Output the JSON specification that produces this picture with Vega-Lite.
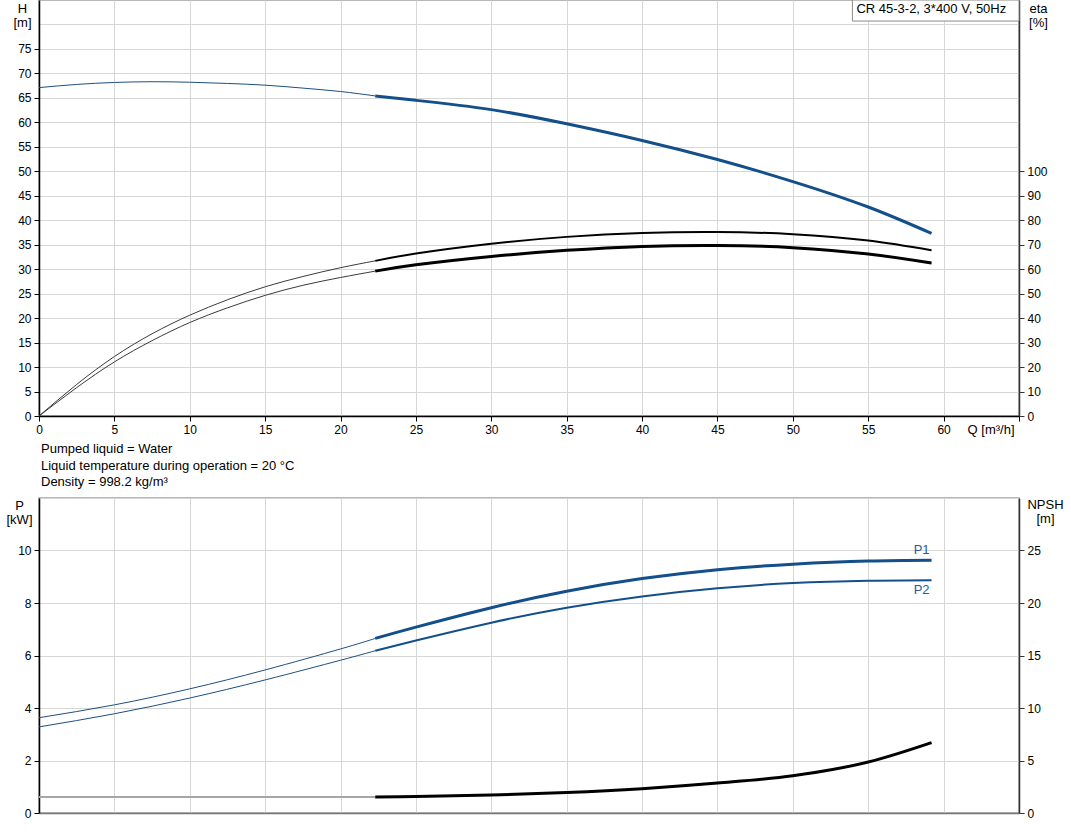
{
  "$schema": "https://vega.github.io/schema/vega-lite/v6.json",
  "background": "white",
  "padding": {"left": 5, "top": -2, "right": 2, "bottom": 0},
  "autosize": {"type": "pad"},
  "bounds": "flush",
  "spacing": 82,
  "config": {
    "font": "Liberation Sans",
    "view": {"stroke": "#a0a0a0", "strokeWidth": 1.5},
    "axis": {
      "labelFont": "Liberation Sans", "labelFontSize": 12, "labelColor": "#000",
      "titleFont": "Liberation Sans", "titleFontSize": 13, "titleFontWeight": "normal", "titleColor": "#000",
      "gridColor": "#d6d6d6", "gridWidth": 1, "tickColor": "#000", "domainColor": "#000", "domainWidth": 1.5,
      "tickSize": 5, "labelPadding": 3, "labelFlush": false, "labelOverlap": false
    },
    "line": {"interpolate": "natural"}
  },
  "datasets": {
    "curves": [
      {"curve": "H", "seg": "thin", "Q": 0, "value": 67.1},
      {"curve": "H", "seg": "thin", "Q": 2.5, "value": 67.75},
      {"curve": "H", "seg": "thin", "Q": 5, "value": 68.15},
      {"curve": "H", "seg": "thin", "Q": 7.5, "value": 68.3},
      {"curve": "H", "seg": "thin", "Q": 10, "value": 68.2},
      {"curve": "H", "seg": "thin", "Q": 12.5, "value": 67.95},
      {"curve": "H", "seg": "thin", "Q": 15, "value": 67.6},
      {"curve": "H", "seg": "thin", "Q": 17.5, "value": 67.0},
      {"curve": "H", "seg": "thin", "Q": 20, "value": 66.3},
      {"curve": "H", "seg": "thin", "Q": 22.3, "value": 65.4},
      {"curve": "H", "seg": "thick", "Q": 22.3, "value": 65.4},
      {"curve": "H", "seg": "thick", "Q": 25, "value": 64.5},
      {"curve": "H", "seg": "thick", "Q": 30, "value": 62.6},
      {"curve": "H", "seg": "thick", "Q": 35, "value": 59.7},
      {"curve": "H", "seg": "thick", "Q": 40, "value": 56.3},
      {"curve": "H", "seg": "thick", "Q": 45, "value": 52.4},
      {"curve": "H", "seg": "thick", "Q": 50, "value": 47.9},
      {"curve": "H", "seg": "thick", "Q": 55, "value": 42.7},
      {"curve": "H", "seg": "thick", "Q": 59.2, "value": 37.3},

      {"curve": "eta1", "seg": "thin", "Q": 0, "value": 0},
      {"curve": "eta1", "seg": "thin", "Q": 2.5, "value": 12.9},
      {"curve": "eta1", "seg": "thin", "Q": 5, "value": 24.3},
      {"curve": "eta1", "seg": "thin", "Q": 7.5, "value": 33.6},
      {"curve": "eta1", "seg": "thin", "Q": 10, "value": 41.2},
      {"curve": "eta1", "seg": "thin", "Q": 12.5, "value": 47.5},
      {"curve": "eta1", "seg": "thin", "Q": 15, "value": 52.8},
      {"curve": "eta1", "seg": "thin", "Q": 17.5, "value": 57.0},
      {"curve": "eta1", "seg": "thin", "Q": 20, "value": 60.6},
      {"curve": "eta1", "seg": "thin", "Q": 22.3, "value": 63.4},
      {"curve": "eta1", "seg": "thick", "Q": 22.3, "value": 63.4},
      {"curve": "eta1", "seg": "thick", "Q": 25, "value": 66.4},
      {"curve": "eta1", "seg": "thick", "Q": 30, "value": 70.4},
      {"curve": "eta1", "seg": "thick", "Q": 35, "value": 73.2},
      {"curve": "eta1", "seg": "thick", "Q": 40, "value": 74.8},
      {"curve": "eta1", "seg": "thick", "Q": 45, "value": 75.2},
      {"curve": "eta1", "seg": "thick", "Q": 50, "value": 74.3},
      {"curve": "eta1", "seg": "thick", "Q": 55, "value": 71.7},
      {"curve": "eta1", "seg": "thick", "Q": 59.2, "value": 67.7},

      {"curve": "eta2", "seg": "thin", "Q": 0, "value": 0},
      {"curve": "eta2", "seg": "thin", "Q": 2.5, "value": 11.6},
      {"curve": "eta2", "seg": "thin", "Q": 5, "value": 22.1},
      {"curve": "eta2", "seg": "thin", "Q": 7.5, "value": 30.8},
      {"curve": "eta2", "seg": "thin", "Q": 10, "value": 38.2},
      {"curve": "eta2", "seg": "thin", "Q": 12.5, "value": 44.2},
      {"curve": "eta2", "seg": "thin", "Q": 15, "value": 49.3},
      {"curve": "eta2", "seg": "thin", "Q": 17.5, "value": 53.4},
      {"curve": "eta2", "seg": "thin", "Q": 20, "value": 56.6},
      {"curve": "eta2", "seg": "thin", "Q": 22.3, "value": 59.2},
      {"curve": "eta2", "seg": "thick", "Q": 22.3, "value": 59.2},
      {"curve": "eta2", "seg": "thick", "Q": 25, "value": 61.8},
      {"curve": "eta2", "seg": "thick", "Q": 30, "value": 65.2},
      {"curve": "eta2", "seg": "thick", "Q": 35, "value": 67.7},
      {"curve": "eta2", "seg": "thick", "Q": 40, "value": 69.3},
      {"curve": "eta2", "seg": "thick", "Q": 45, "value": 69.7},
      {"curve": "eta2", "seg": "thick", "Q": 50, "value": 68.8},
      {"curve": "eta2", "seg": "thick", "Q": 55, "value": 66.2},
      {"curve": "eta2", "seg": "thick", "Q": 59.2, "value": 62.5},

      {"curve": "P1", "seg": "thin", "Q": 0, "value": 3.63},
      {"curve": "P1", "seg": "thin", "Q": 5, "value": 4.12},
      {"curve": "P1", "seg": "thin", "Q": 10, "value": 4.73},
      {"curve": "P1", "seg": "thin", "Q": 15, "value": 5.45},
      {"curve": "P1", "seg": "thin", "Q": 20, "value": 6.25},
      {"curve": "P1", "seg": "thin", "Q": 22.3, "value": 6.65},
      {"curve": "P1", "seg": "thick", "Q": 22.3, "value": 6.65},
      {"curve": "P1", "seg": "thick", "Q": 25, "value": 7.08},
      {"curve": "P1", "seg": "thick", "Q": 30, "value": 7.82},
      {"curve": "P1", "seg": "thick", "Q": 35, "value": 8.45},
      {"curve": "P1", "seg": "thick", "Q": 40, "value": 8.93},
      {"curve": "P1", "seg": "thick", "Q": 45, "value": 9.27},
      {"curve": "P1", "seg": "thick", "Q": 50, "value": 9.48},
      {"curve": "P1", "seg": "thick", "Q": 55, "value": 9.6},
      {"curve": "P1", "seg": "thick", "Q": 59.2, "value": 9.63},

      {"curve": "P2", "seg": "thin", "Q": 0, "value": 3.28},
      {"curve": "P2", "seg": "thin", "Q": 5, "value": 3.78},
      {"curve": "P2", "seg": "thin", "Q": 10, "value": 4.38},
      {"curve": "P2", "seg": "thin", "Q": 15, "value": 5.07},
      {"curve": "P2", "seg": "thin", "Q": 20, "value": 5.82},
      {"curve": "P2", "seg": "thin", "Q": 22.3, "value": 6.18},
      {"curve": "P2", "seg": "thick", "Q": 22.3, "value": 6.18},
      {"curve": "P2", "seg": "thick", "Q": 25, "value": 6.57},
      {"curve": "P2", "seg": "thick", "Q": 30, "value": 7.25},
      {"curve": "P2", "seg": "thick", "Q": 35, "value": 7.82},
      {"curve": "P2", "seg": "thick", "Q": 40, "value": 8.25},
      {"curve": "P2", "seg": "thick", "Q": 45, "value": 8.56},
      {"curve": "P2", "seg": "thick", "Q": 50, "value": 8.76},
      {"curve": "P2", "seg": "thick", "Q": 55, "value": 8.85},
      {"curve": "P2", "seg": "thick", "Q": 59.2, "value": 8.87},

      {"curve": "NPSH", "seg": "thin", "Q": 0, "value": 1.53},
      {"curve": "NPSH", "seg": "thin", "Q": 22.3, "value": 1.53},
      {"curve": "NPSH", "seg": "thick", "Q": 22.3, "value": 1.53},
      {"curve": "NPSH", "seg": "thick", "Q": 25, "value": 1.57},
      {"curve": "NPSH", "seg": "thick", "Q": 30, "value": 1.71},
      {"curve": "NPSH", "seg": "thick", "Q": 35, "value": 1.95},
      {"curve": "NPSH", "seg": "thick", "Q": 40, "value": 2.32},
      {"curve": "NPSH", "seg": "thick", "Q": 45, "value": 2.85},
      {"curve": "NPSH", "seg": "thick", "Q": 50, "value": 3.55},
      {"curve": "NPSH", "seg": "thick", "Q": 55, "value": 4.85},
      {"curve": "NPSH", "seg": "thick", "Q": 59.2, "value": 6.7}
    ],
    "box": [
      {"Q": 53.95, "Q2": 65, "value": 85, "value2": 80.7, "label": "CR 45-3-2, 3*400 V, 50Hz"}
    ]
  },
  "vconcat": [
    {
      "width": 980,
      "height": 416,
      "encoding": {
        "x": {
          "field": "Q", "type": "quantitative",
          "scale": {"domain": [0, 65], "nice": false, "zero": false},
          "axis": {
            "values": [0, 5, 10, 15, 20, 25, 30, 35, 40, 45, 50, 55, 60, 65],
            "labelExpr": "datum.value > 60 ? '' : datum.label",
            "grid": true,
            "title": "Q [m³/h]",
            "titleAlign": "right", "titleAnchor": "start", "titleBaseline": "top",
            "titleX": 975, "titleY": 7
          }
        }
      },
      "layer": [
        {
          "encoding": {
            "y": {
              "field": "value", "type": "quantitative",
              "scale": {"domain": [0, 85], "nice": false},
              "axis": {
                "orient": "left",
                "values": [0, 5, 10, 15, 20, 25, 30, 35, 40, 45, 50, 55, 60, 65, 70, 75, 80],
                "labelExpr": "datum.value == 80 ? '' : datum.label",
                "tickOpacity": {"condition": {"test": "datum.value == 80", "value": 0}, "value": 1},
                "grid": true,
                "title": ["H", "[m]"],
                "titleAngle": 0, "titleAlign": "center", "titleBaseline": "top",
                "titleX": -17, "titleY": 2, "titleLineHeight": 14
              }
            }
          },
          "layer": [
            {
              "data": {"name": "curves"},
              "transform": [{"filter": "datum.curve == 'H' && datum.seg == 'thin'"}],
              "mark": {"type": "line", "stroke": "#1d4f80", "strokeWidth": 1}
            },
            {
              "data": {"name": "curves"},
              "transform": [{"filter": "datum.curve == 'H' && datum.seg == 'thick'"}],
              "mark": {"type": "line", "stroke": "#134f8a", "strokeWidth": 3}
            },
            {
              "data": {"name": "box"},
              "mark": {"type": "rect", "fill": "white", "stroke": "#8a8a8a", "strokeWidth": 1},
              "encoding": {
                "x2": {"field": "Q2"},
                "y2": {"field": "value2"}
              }
            },
            {
              "data": {"name": "box"},
              "mark": {"type": "text", "align": "left", "baseline": "top", "dx": 4, "dy": 3, "fontSize": 13, "font": "Liberation Sans", "color": "#000"},
              "encoding": {
                "text": {"field": "label"}
              }
            }
          ]
        },
        {
          "encoding": {
            "y": {
              "field": "value", "type": "quantitative",
              "scale": {"domain": [0, 170], "nice": false},
              "axis": {
                "orient": "right",
                "values": [0, 10, 20, 30, 40, 50, 60, 70, 80, 90, 100],
                "grid": false,
                "domainColor": "#333", "tickColor": "#333",
                "title": ["eta", "[%]"],
                "titleAngle": 0, "titleAlign": "center", "titleBaseline": "top",
                "titleX": 19, "titleY": 2, "titleLineHeight": 14
              }
            }
          },
          "layer": [
            {
              "data": {"name": "curves"},
              "transform": [{"filter": "(datum.curve == 'eta1' || datum.curve == 'eta2') && datum.seg == 'thin'"}],
              "mark": {"type": "line", "stroke": "#3a3a3a", "strokeWidth": 1},
              "encoding": {"detail": {"field": "curve"}}
            },
            {
              "data": {"name": "curves"},
              "transform": [{"filter": "datum.curve == 'eta1' && datum.seg == 'thick'"}],
              "mark": {"type": "line", "stroke": "#000", "strokeWidth": 2}
            },
            {
              "data": {"name": "curves"},
              "transform": [{"filter": "datum.curve == 'eta2' && datum.seg == 'thick'"}],
              "mark": {"type": "line", "stroke": "#000", "strokeWidth": 3}
            }
          ]
        }
      ],
      "resolve": {"scale": {"y": "independent"}, "axis": {"y": "independent"}}
    },
    {
      "width": 980,
      "height": 315,
      "title": {
        "text": ["Pumped liquid = Water", "Liquid temperature during operation = 20 °C", "Density = 998.2 kg/m³"],
        "anchor": "start", "frame": "group", "orient": "top",
        "font": "Liberation Sans", "fontSize": 13, "fontWeight": "normal", "color": "#000",
        "lineHeight": 16.5, "offset": 3, "dx": 2
      },
      "encoding": {
        "x": {
          "field": "Q", "type": "quantitative",
          "scale": {"domain": [0, 65], "nice": false, "zero": false},
          "axis": {
            "values": [0, 5, 10, 15, 20, 25, 30, 35, 40, 45, 50, 55, 60, 65],
            "labels": false, "ticks": false, "grid": true,
            "domainColor": "#777", "domainWidth": 1.5,
            "title": null
          }
        }
      },
      "layer": [
        {
          "encoding": {
            "y": {
              "field": "value", "type": "quantitative",
              "scale": {"domain": [0, 12], "nice": false},
              "axis": {
                "orient": "left",
                "values": [0, 2, 4, 6, 8, 10, 12],
                "labelExpr": "datum.value == 12 ? '' : datum.label",
                "tickOpacity": {"condition": {"test": "datum.value == 12", "value": 0}, "value": 1},
                "grid": true,
                "title": ["P", "[kW]"],
                "titleAngle": 0, "titleAlign": "center", "titleBaseline": "top",
                "titleX": -20, "titleY": 1, "titleLineHeight": 14
              }
            }
          },
          "layer": [
            {
              "data": {"name": "curves"},
              "transform": [{"filter": "(datum.curve == 'P1' || datum.curve == 'P2') && datum.seg == 'thin'"}],
              "mark": {"type": "line", "stroke": "#1d4f80", "strokeWidth": 1},
              "encoding": {"detail": {"field": "curve"}}
            },
            {
              "data": {"name": "curves"},
              "transform": [{"filter": "datum.curve == 'P1' && datum.seg == 'thick'"}],
              "mark": {"type": "line", "stroke": "#134f8a", "strokeWidth": 3}
            },
            {
              "data": {"name": "curves"},
              "transform": [{"filter": "datum.curve == 'P2' && datum.seg == 'thick'"}],
              "mark": {"type": "line", "stroke": "#134f8a", "strokeWidth": 2}
            },
            {
              "data": {"name": "curves"},
              "transform": [{"filter": "datum.curve == 'P1' && datum.seg == 'thick' && datum.Q == 59.2"}],
              "mark": {"type": "text", "align": "right", "baseline": "middle", "dx": -2, "dy": -10, "fontSize": 13, "font": "Liberation Sans", "color": "#2a5a96"},
              "encoding": {"text": {"field": "curve"}}
            },
            {
              "data": {"name": "curves"},
              "transform": [{"filter": "datum.curve == 'P2' && datum.seg == 'thick' && datum.Q == 59.2"}],
              "mark": {"type": "text", "align": "right", "baseline": "middle", "dx": -2, "dy": 10, "fontSize": 13, "font": "Liberation Sans", "color": "#2a5a96"},
              "encoding": {"text": {"field": "curve"}}
            }
          ]
        },
        {
          "encoding": {
            "y": {
              "field": "value", "type": "quantitative",
              "scale": {"domain": [0, 30], "nice": false},
              "axis": {
                "orient": "right",
                "values": [0, 5, 10, 15, 20, 25],
                "grid": false,
                "domainColor": "#333", "tickColor": "#333",
                "title": ["NPSH", "[m]"],
                "titleAngle": 0, "titleAlign": "center", "titleBaseline": "top",
                "titleX": 26, "titleY": 0, "titleLineHeight": 14
              }
            }
          },
          "layer": [
            {
              "data": {"name": "curves"},
              "transform": [{"filter": "datum.curve == 'NPSH' && datum.seg == 'thin'"}],
              "mark": {"type": "line", "stroke": "#a6a6a6", "strokeWidth": 2}
            },
            {
              "data": {"name": "curves"},
              "transform": [{"filter": "datum.curve == 'NPSH' && datum.seg == 'thick'"}],
              "mark": {"type": "line", "stroke": "#000", "strokeWidth": 3, "interpolate": "monotone"}
            }
          ]
        }
      ],
      "resolve": {"scale": {"y": "independent"}, "axis": {"y": "independent"}}
    }
  ]
}
